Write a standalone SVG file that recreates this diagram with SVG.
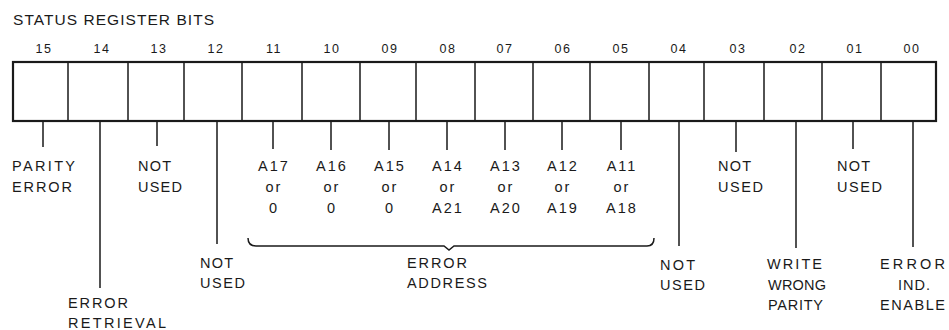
<svg xmlns="http://www.w3.org/2000/svg" width="949" height="330" viewBox="0 0 949 330">
<style>
text{font-family:"Liberation Sans",Arial,sans-serif;fill:#1a1a1a}
.t{font-size:15.5px;letter-spacing:1px}
.b{font-size:12.5px;text-anchor:middle;letter-spacing:1.5px}
.l{font-size:14.5px}
.c{font-size:14.5px;text-anchor:middle;letter-spacing:2px}
.box{fill:none;stroke:#1a1a1a;stroke-width:2.2}
.div{stroke:#1a1a1a;stroke-width:1.5}
.ld{stroke:#1a1a1a;stroke-width:1.5;fill:none}
</style>
<rect width="949" height="330" fill="#fff"/>
<text class="t" x="13" y="25" textLength="202" lengthAdjust="spacing">STATUS REGISTER BITS</text>
<g id="register">
<rect class="box" x="13" y="62" width="923" height="59"/>
<path class="div" d="M68 62V121M128 62V121M184 62V121M242 62V121M302 62V121M360 62V121M416 62V121M475 62V121M533 62V121M590 62V121M649 62V121M704 62V121M764 62V121M822 62V121M881 62V121"/>
</g>
<g id="bitnumbers">
<text class="b" x="44" y="53">15</text>
<text class="b" x="102" y="53">14</text>
<text class="b" x="159" y="53">13</text>
<text class="b" x="216" y="53">12</text>
<text class="b" x="274" y="53">11</text>
<text class="b" x="332" y="53">10</text>
<text class="b" x="390" y="53">09</text>
<text class="b" x="448" y="53">08</text>
<text class="b" x="505" y="53">07</text>
<text class="b" x="563" y="53">06</text>
<text class="b" x="621" y="53">05</text>
<text class="b" x="679" y="53">04</text>
<text class="b" x="738" y="53">03</text>
<text class="b" x="798" y="53">02</text>
<text class="b" x="855" y="53">01</text>
<text class="b" x="912" y="53">00</text>
</g>
<g id="connectors">
<path class="ld" d="M43 121V147M100 121V288M157 121V146M217 121V244M273 121V149M331 121V150M389 121V150M447 121V150M505 121V150M562 121V150M621 121V150M679 121V246M736 121V152M796 121V248M853 121V149M913 121V247"/>
<path class="ld" d="M248 238Q248 246 256 246H444L449 250L454 246H647Q654 246 654 238"/>
</g>
<g id="bit15"><text class="l" x="12" y="171" textLength="63" lengthAdjust="spacing">PARITY</text><text class="l" x="12" y="192" textLength="60" lengthAdjust="spacing">ERROR</text></g>
<g id="bit14"><text class="l" x="68" y="308" textLength="60" lengthAdjust="spacing">ERROR</text><text class="l" x="68" y="328" textLength="98" lengthAdjust="spacing">RETRIEVAL</text></g>
<g id="bit13"><text class="l" x="138" y="171" textLength="33" lengthAdjust="spacing">NOT</text><text class="l" x="138" y="192" textLength="44" lengthAdjust="spacing">USED</text></g>
<g id="bit12"><text class="l" x="200" y="268" textLength="33" lengthAdjust="spacing">NOT</text><text class="l" x="200" y="288" textLength="45" lengthAdjust="spacing">USED</text></g>
<g id="bit11"><text class="c" x="274" y="171">A17</text><text class="c" x="274" y="192">or</text><text class="c" x="274" y="213">0</text></g>
<g id="bit10"><text class="c" x="332" y="171">A16</text><text class="c" x="332" y="192">or</text><text class="c" x="332" y="213">0</text></g>
<g id="bit09"><text class="c" x="390" y="171">A15</text><text class="c" x="390" y="192">or</text><text class="c" x="390" y="213">0</text></g>
<g id="bit08"><text class="c" x="448" y="171">A14</text><text class="c" x="448" y="192">or</text><text class="c" x="448" y="213">A21</text></g>
<g id="bit07"><text class="c" x="506" y="171">A13</text><text class="c" x="506" y="192">or</text><text class="c" x="506" y="213">A20</text></g>
<g id="bit06"><text class="c" x="563" y="171">A12</text><text class="c" x="563" y="192">or</text><text class="c" x="563" y="213">A19</text></g>
<g id="bit05"><text class="c" x="622" y="171">A11</text><text class="c" x="622" y="192">or</text><text class="c" x="622" y="213">A18</text></g>
<g id="erroraddress"><text class="l" x="407" y="268" textLength="60" lengthAdjust="spacing">ERROR</text><text class="l" x="407" y="288" textLength="80" lengthAdjust="spacing">ADDRESS</text></g>
<g id="bit04"><text class="l" x="660" y="270" textLength="35" lengthAdjust="spacing">NOT</text><text class="l" x="660" y="290" textLength="45" lengthAdjust="spacing">USED</text></g>
<g id="bit03"><text class="l" x="718" y="171" textLength="33" lengthAdjust="spacing">NOT</text><text class="l" x="718" y="192" textLength="45" lengthAdjust="spacing">USED</text></g>
<g id="bit02"><text class="l" x="767" y="269" textLength="55" lengthAdjust="spacing">WRITE</text><text class="l" x="768" y="290" textLength="58" lengthAdjust="spacing">WRONG</text><text class="l" x="768" y="310" textLength="55" lengthAdjust="spacing">PARITY</text></g>
<g id="bit01"><text class="l" x="837" y="171" textLength="33" lengthAdjust="spacing">NOT</text><text class="l" x="837" y="192" textLength="45" lengthAdjust="spacing">USED</text></g>
<g id="bit00"><text class="l" x="880" y="269" textLength="65" lengthAdjust="spacing">ERROR</text><text class="l" x="898" y="290" textLength="32" lengthAdjust="spacing">IND.</text><text class="l" x="880" y="310" textLength="65" lengthAdjust="spacing">ENABLE</text></g>
</svg>
